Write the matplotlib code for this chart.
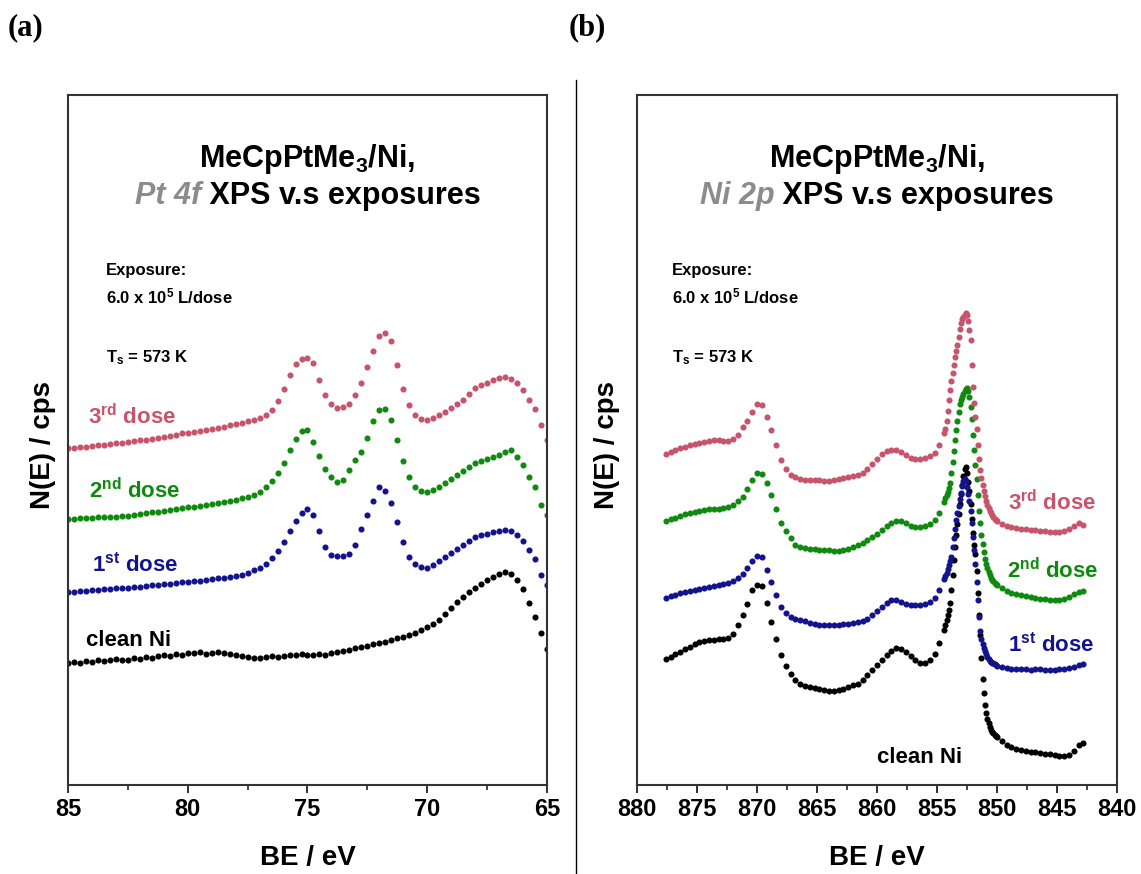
import numpy as np
import matplotlib
matplotlib.use("Agg")
import matplotlib.pyplot as plt
from matplotlib.lines import Line2D
from matplotlib.ticker import MultipleLocator

plt.rcParams["font.family"] = ["Liberation Sans", "DejaVu Sans"]
plt.rcParams["font.weight"] = "bold"
plt.rcParams["mathtext.fontset"] = "custom"
plt.rcParams["mathtext.rm"] = "Liberation Sans:bold"
plt.rcParams["mathtext.bf"] = "Liberation Sans:bold"
plt.rcParams["mathtext.it"] = "Liberation Sans:italic:bold"
plt.rcParams["mathtext.default"] = "bf"

# ---- Pt 4f spectra (binding energy grid, eV) ----
pt_energy = np.round(np.arange(85.0, 64.99, -0.25), 2)

pt_clean = [
    122, 123, 122, 124, 123, 125, 124, 125, 126, 125,
    125, 127, 126, 128, 127, 129, 130, 129, 131, 130,
    132, 132, 133, 131, 132, 133, 132, 131, 130, 129,
    128, 127, 127, 128, 129, 128, 129, 130, 130, 131,
    130, 130, 131, 130, 132, 133, 134, 135, 137, 138,
    139, 141, 142, 143, 145, 147, 148, 150, 152, 155,
    158, 161, 165, 171, 177, 183, 188, 193, 197, 201,
    205, 208, 211, 213, 211, 205, 196, 182, 168, 152,
    136]
pt_dose1 = [
    193, 193, 194, 194, 195, 195, 196, 196, 197, 197,
    197, 198, 198, 199, 200, 200, 201, 201, 202, 203,
    203, 204, 204, 205, 206, 207, 207, 208, 209, 210,
    212, 215, 217, 221, 227, 234, 243, 254, 264, 272,
    276, 270, 254, 238, 230, 229, 229, 231, 240, 256,
    270, 284, 298, 294, 282, 263, 243, 228, 221, 218,
    217, 220, 224, 228, 232, 236, 240, 244, 248, 250,
    251, 253, 254, 255, 254, 250, 244, 235, 226, 210,
    200]
pt_dose2 = [
    266, 266, 267, 267, 267, 268, 268, 268, 268, 269,
    269, 270, 271, 272, 273, 273, 274, 275, 276, 277,
    278, 278, 279, 280, 281, 282, 283, 284, 285, 287,
    288, 290, 293, 298, 304, 312, 322, 335, 346, 354,
    355, 343, 329, 316, 308, 303, 305, 315, 325, 333,
    347, 364, 375, 376, 365, 345, 324, 308, 298, 294,
    293, 295, 298, 302, 306, 310, 314, 318, 322, 324,
    326, 328, 330, 333, 335, 328, 320, 308, 298, 280,
    270]
pt_dose3 = [
    337, 337, 338, 338, 339, 340, 340, 341, 342, 342,
    343, 344, 345, 345, 346, 347, 348, 349, 350, 352,
    352, 353, 354, 355, 356, 357, 358, 360, 361, 362,
    364, 365, 367, 370, 375, 384, 396, 410, 421, 426,
    427, 422, 405, 390, 381, 377, 378, 381, 390, 402,
    418, 434, 449, 452, 444, 420, 396, 380, 370, 366,
    365, 367, 370, 373, 377, 381, 385, 391, 397, 400,
    402, 405, 407, 408, 406, 402, 395, 385, 376, 360,
    345]

# ---- Ni 2p spectra (finer steps across the 2p3/2 peak) ----
ni_energy = np.round(np.concatenate([
    np.arange(877.6, 854.39, -0.4),
    np.arange(854.3, 849.99, -0.1),
    np.arange(849.6, 842.79, -0.4)]), 2)

ni_clean = [
    126, 128, 131, 133, 136, 138, 141, 143, 144, 145,
    145, 146, 146, 147, 151, 160, 170, 181, 195, 200,
    199, 182, 163, 146, 130, 119, 111, 105, 101, 99,
    98, 97, 96, 95, 94, 94, 95, 96, 98, 100,
    101, 105, 110, 115, 120, 125, 130, 134, 137, 136,
    133, 129, 125, 122, 122, 125, 131, 142, 155,
    160, 165, 170, 175, 182, 195, 210, 225, 238, 250,
    261, 271, 281, 291, 300, 309, 316, 318, 312, 303,
    294, 281, 266, 252, 240, 231, 214, 192, 170, 150,
    127, 106, 92, 80, 72, 66, 62, 58, 55, 53,
    52, 50, 49, 48,
    44, 40, 38, 36, 35, 34, 33, 33, 32, 31,
    31, 30, 29, 29, 30, 34, 40, 42]
ni_dose1 = [
    187, 189, 190, 192, 193, 194, 195, 196, 197, 198,
    199, 200, 201, 202, 204, 207, 211, 217, 224, 229,
    228, 215, 203, 190, 178, 172, 168, 166, 165, 164,
    162, 161, 160, 160, 160, 160, 160, 161, 161, 162,
    163, 164, 166, 170, 174, 178, 182, 185, 185, 183,
    181, 180, 180, 180, 181, 183, 187, 195, 206,
    209, 212, 216, 220, 224, 228, 238, 247, 256, 265,
    272, 279, 286, 292, 299, 304, 306, 304, 298, 291,
    284, 274, 262, 248, 235, 221, 203, 185, 168, 154,
    146, 141, 137, 134, 131, 128, 126, 124, 123, 122,
    122, 121, 120, 119,
    118, 117, 116, 116, 116, 116, 115, 116, 116, 115,
    115, 115, 116, 116, 117, 118, 120, 121]
ni_dose2 = [
    264, 266, 267, 269, 271, 272, 273, 274, 275, 276,
    276, 276, 277, 278, 280, 284, 288, 296, 305, 312,
    311, 302, 290, 276, 262, 254, 247, 240, 238, 237,
    236, 236, 235, 235, 235, 234, 234, 235, 236, 238,
    240, 242, 245, 248, 251, 255, 259, 262, 264, 264,
    262, 259, 258, 258, 259, 261, 265, 272, 283,
    287, 290, 293, 297, 302, 312, 323, 334, 345, 355,
    364, 373, 381, 385, 388, 391, 394, 396, 397, 394,
    388, 378, 366, 350, 335, 320, 306, 290, 274, 262,
    250, 241, 233, 226, 221, 217, 213, 210, 207, 205,
    204, 202, 201, 200,
    197, 194, 192, 191, 190, 189, 188, 187, 186, 186,
    185, 185, 185, 186, 188, 191, 193, 194]
ni_dose3 = [
    331, 333, 335, 337, 338, 340, 341, 342, 343, 344,
    345, 345, 344, 344, 346, 350, 358, 364, 373, 381,
    380, 368, 355, 340, 325, 316, 310, 308, 306, 305,
    305, 305, 305, 304, 304, 305, 306, 307, 308, 309,
    310, 312, 316, 321, 326, 331, 334, 335, 335, 333,
    330, 327, 326, 326, 327, 329, 332, 340, 352,
    356, 364, 374, 385, 395, 404, 412, 420, 428, 434,
    440, 448, 456, 462, 466, 468, 470, 472, 470, 464,
    455, 445, 420, 398, 382, 368, 356, 340, 326, 315,
    307, 300, 294, 289, 284, 280, 277, 274, 272, 270,
    268, 266, 265, 264,
    261, 259, 258, 257, 256, 256, 255, 255, 254, 254,
    253, 253, 253, 254, 256, 259, 262, 260]

series_colors = ["#000000", "#13138f", "#0f8a0f", "#c8546b"]

assert len(pt_clean) == len(pt_dose1) == len(pt_dose2) == len(pt_dose3) == len(pt_energy)
assert len(ni_clean) == len(ni_dose1) == len(ni_dose2) == len(ni_dose3) == len(ni_energy)

W, H = 1141, 874
fig = plt.figure(figsize=(W / 100, H / 100), dpi=100)


def fx(px):
    return px / W


def fy(py):
    return 1 - py / H


ax1 = fig.add_axes([fx(68), fy(785), (547 - 68) / W, (785 - 95) / H])
ax2 = fig.add_axes([fx(637), fy(785), (1117 - 637) / W, (785 - 95) / H])

for ax, e, curves, lims in [
        (ax1, pt_energy, [pt_clean, pt_dose1, pt_dose2, pt_dose3], (85, 65)),
        (ax2, ni_energy, [ni_clean, ni_dose1, ni_dose2, ni_dose3], (880, 840))]:
    for vals, col in zip(curves, series_colors):
        ax.plot(e, vals, "o", ms=4.4, color=col, mec="none")
    ax.set_xlim(*lims)
    ax.set_ylim(0, 690)
    ax.set_yticks([])
    ax.xaxis.set_major_locator(MultipleLocator(5))
    ax.xaxis.set_minor_locator(MultipleLocator(2.5))
    ax.tick_params(axis="x", which="major", direction="out", length=6,
                   width=1.3, labelsize=17, pad=3, colors="#222222",
                   labelcolor="black")
    ax.tick_params(axis="x", which="minor", direction="out", length=3.5,
                   width=1.2, colors="#222222")
    for s in ax.spines.values():
        s.set_linewidth(1.5)
        s.set_color("#333333")

# panel letters and divider
fig.text(fx(8), fy(28), "(a)", family="Liberation Serif", fontsize=22,
         weight="bold", va="center")
fig.text(fx(569), fy(28), "(b)", family="Liberation Serif", fontsize=22,
         weight="bold", va="center")
fig.add_artist(Line2D([fx(576), fx(576)], [fy(80), 0], color="black", lw=1))

# axis labels
for cx, lx in [(307.5, 43), (877, 607)]:
    fig.text(fx(cx), fy(865), "BE / eV", ha="center", va="baseline", fontsize=20)
    fig.text(fx(lx), fy(445), "N(E) / cps", rotation=90, ha="center",
             va="center", fontsize=20)

# titles
title_parts = []
for cx, elem in [(307.5, "Pt 4f"), (877, "Ni 2p")]:
    fig.text(fx(cx), fy(167), r"MeCpPtMe$_3$/Ni,", ha="center", va="baseline",
             fontsize=22)
    t1 = fig.text(0, fy(204), elem, style="italic", color="#8c8c8c",
                  fontsize=22, va="baseline")
    t2 = fig.text(0, fy(204), " XPS v.s exposures", fontsize=22, va="baseline")
    title_parts.append((cx, t1, t2))

fig.canvas.draw()
r = fig.canvas.get_renderer()
for cx, t1, t2 in title_parts:
    w1 = t1.get_window_extent(r).width
    w2 = t2.get_window_extent(r).width
    left = cx - (w1 + w2) / 2
    t1.set_x(fx(left))
    t2.set_x(fx(left + w1))

# exposure notes
for x0 in [106, 672]:
    fig.text(fx(x0), fy(275), "Exposure:", fontsize=12, va="baseline")
    fig.text(fx(x0), fy(303), r"6.0 x 10$^5$ L/dose", fontsize=12, va="baseline")
    fig.text(fx(x0), fy(362), r"T$_s$ = 573 K", fontsize=12, va="baseline")

# curve labels
dose_labels = ["clean Ni", r"1$^{st}$ dose", r"2$^{nd}$ dose", r"3$^{rd}$ dose"]
pt_label_pos = [(86, 646), (92, 571), (89, 498), (88, 424)]
ni_label_pos = [(877, 763), (1008, 651), (1007, 578), (1008, 510)]
for lab, col, p1, p2 in zip(dose_labels, series_colors, pt_label_pos, ni_label_pos):
    for (x0, y0) in (p1, p2):
        fig.text(fx(x0), fy(y0), lab, color=col, fontsize=16, va="baseline")

fig.savefig("out.png", dpi=100)
